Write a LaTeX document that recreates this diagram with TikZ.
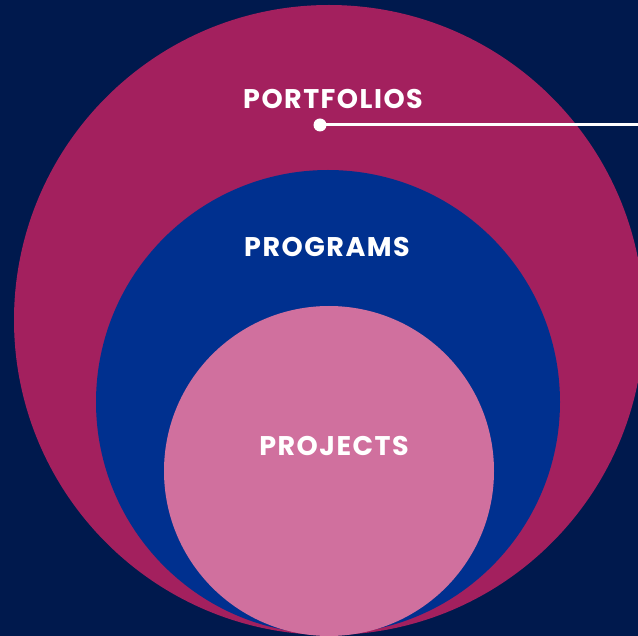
\documentclass[tikz,border=0pt]{standalone}
\usepackage{fontspec}
\setmainfont{Poppins}[BoldFont={* Bold}, LetterSpace=5.5]
\definecolor{bgnavy}{RGB}{0,25,77}
\definecolor{magentaC}{RGB}{163,32,94}
\definecolor{blueC}{RGB}{0,48,143}
\definecolor{pinkC}{RGB}{208,112,158}
\tikzset{
  lbl/.style={text=white, font=\fontsize{27}{31}\selectfont\bfseries, inner sep=0pt, anchor=center},
  ring/.style={circle, inner sep=0pt, draw=none},
}
\begin{document}
\begin{tikzpicture}[x=1pt,y=-1pt]
\fill[bgnavy] (0,0) rectangle (638,636);
\useasboundingbox (0,0) rectangle (638,636);
\begin{scope}
\clip (0,0) rectangle (638,636);
\node[ring, fill=magentaC, minimum size=630pt] (portf) at (329,320) {};
\node[ring, fill=blueC, minimum size=464pt] (progr) at (328,402) {};
\node[ring, fill=pinkC, minimum size=330pt] (proj) at (329,471) {};
\end{scope}
\node[lbl] (tportf) at (333,99) {PORTFOLIOS};
\node[lbl] (tprogr) at (327,247) {PROGRAMS};
\node[lbl] (tproj) at (334,446) {PROJECTS};
\node[circle, fill=white, minimum size=13pt, inner sep=0pt] (dot) at (320,125) {};
\coordinate (lineend) at (640,125);
\draw[white, line width=3pt] (dot.center) -- (lineend);
\end{tikzpicture}
\end{document}
